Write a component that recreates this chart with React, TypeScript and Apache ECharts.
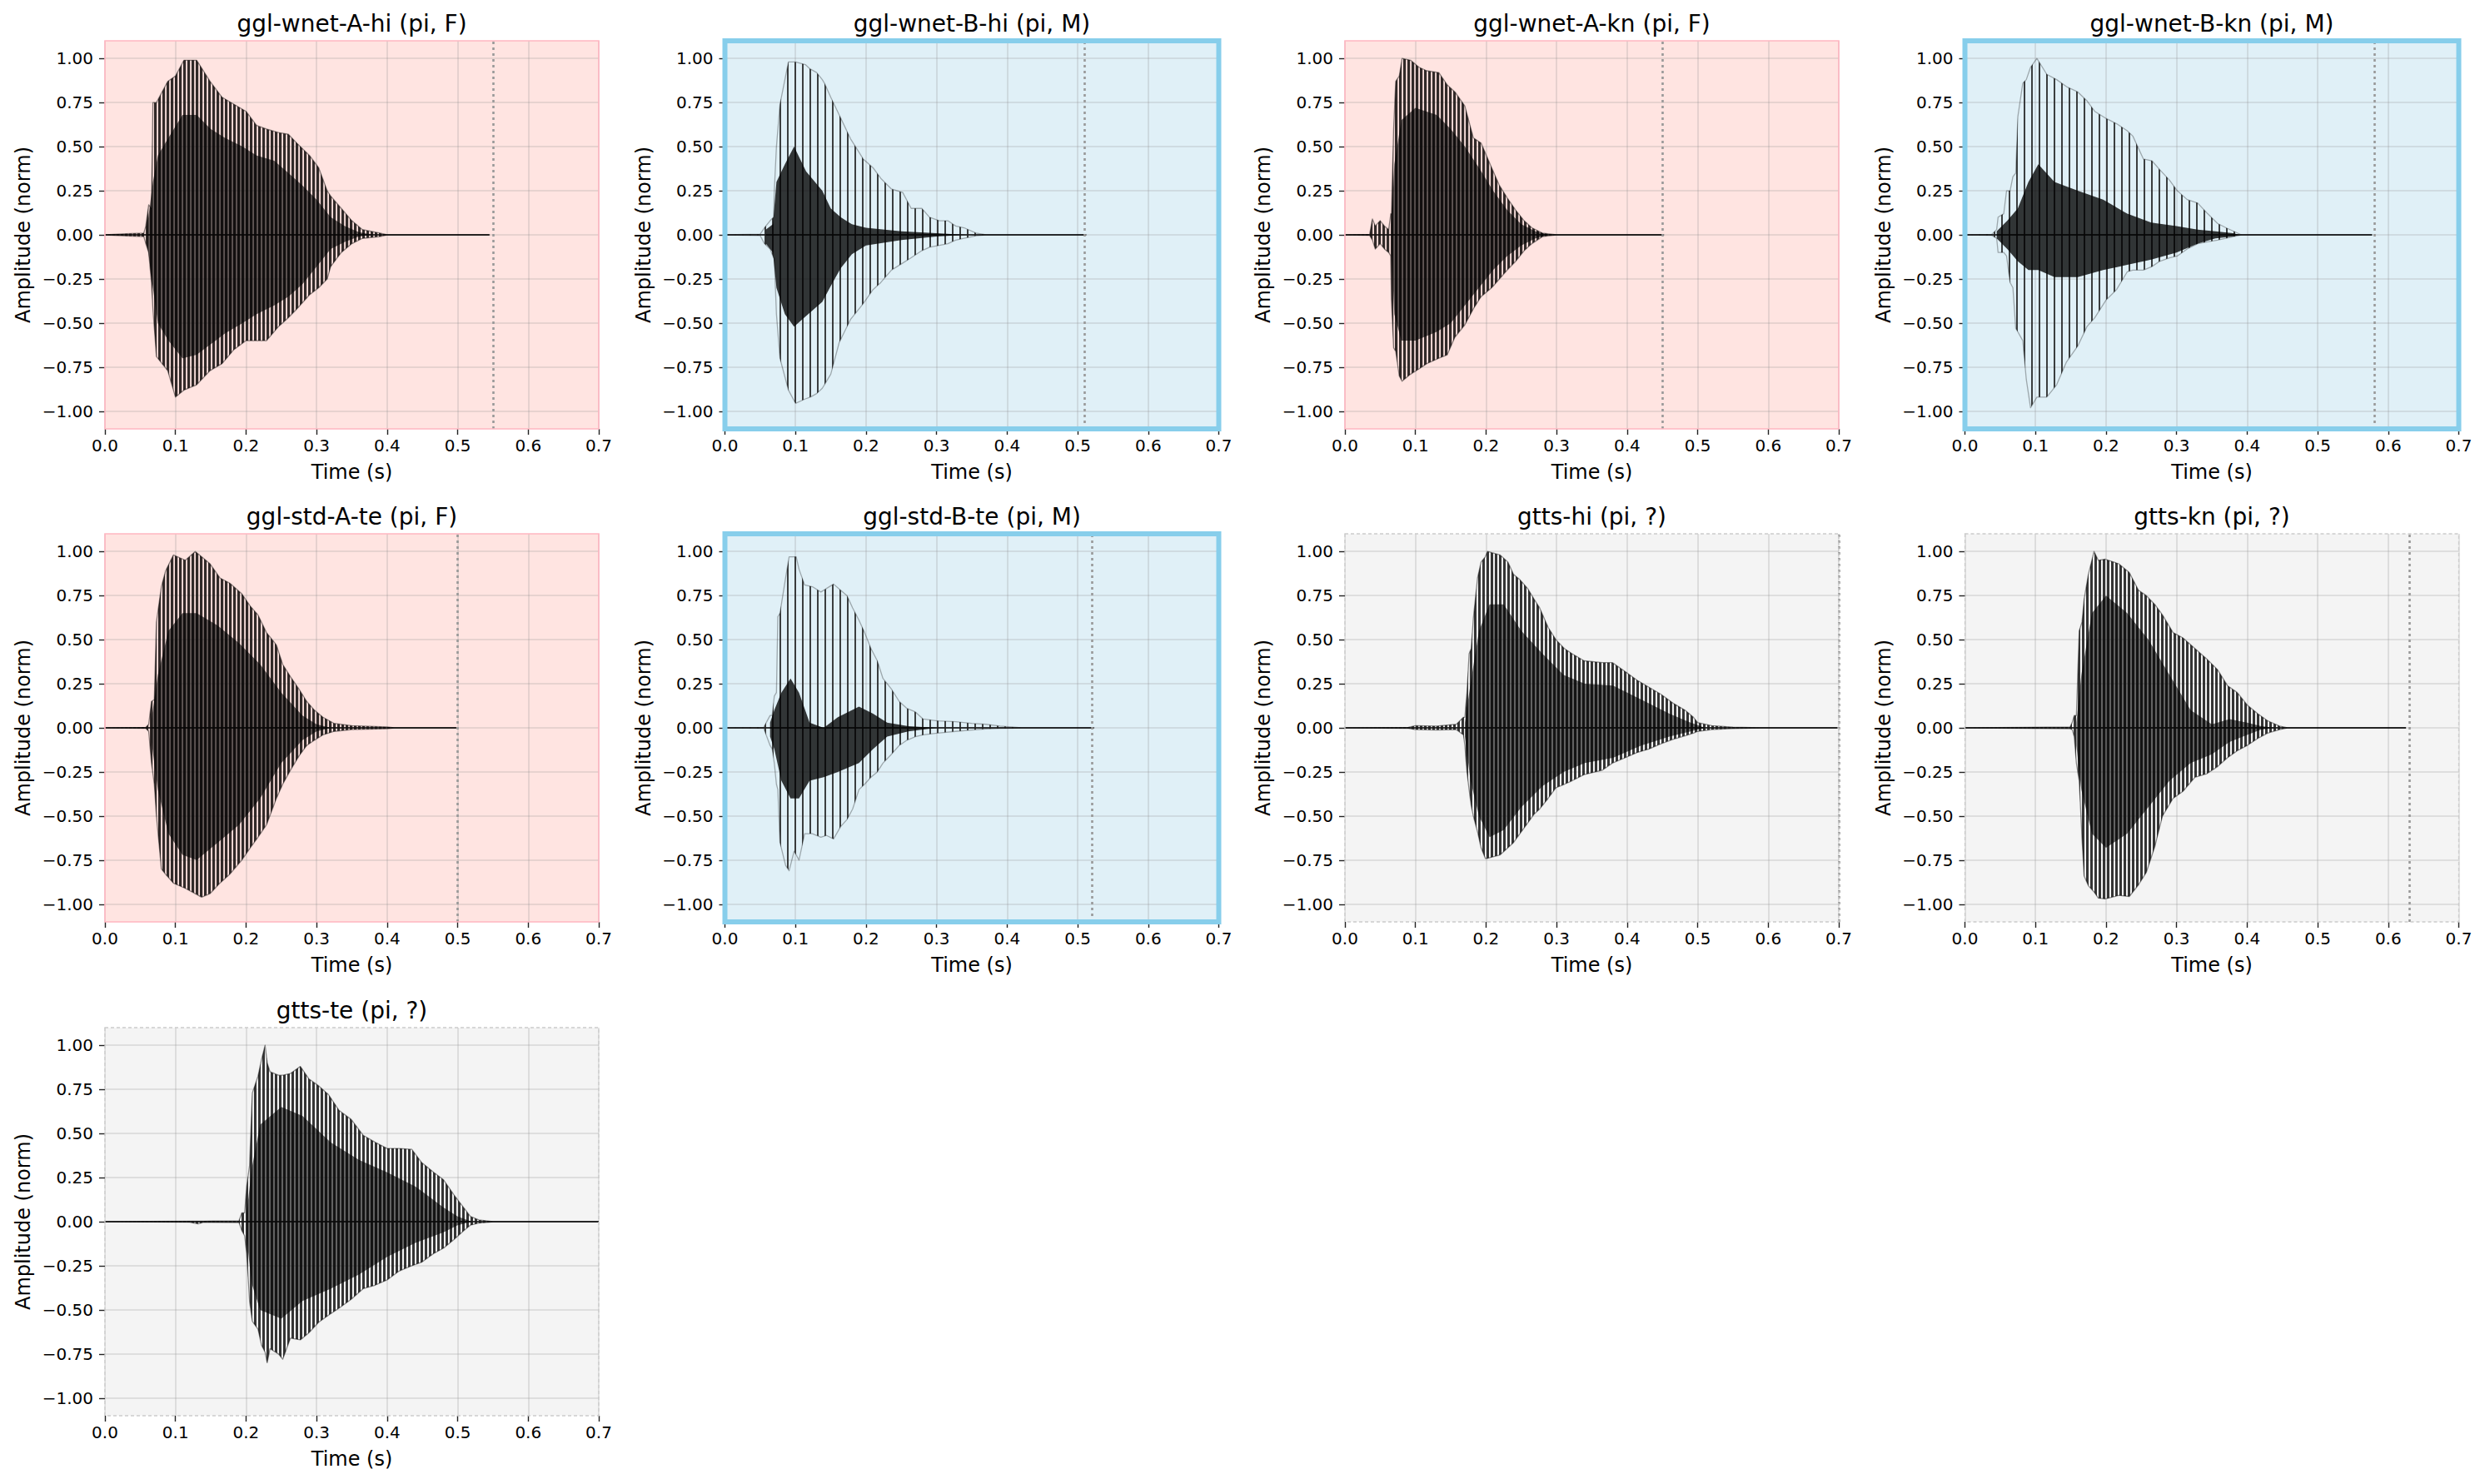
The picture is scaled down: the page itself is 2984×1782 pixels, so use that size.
import { useEffect, useRef } from 'react';
import * as echarts from 'echarts';

// [time (s), upper, lower]
type Envelope = [number, number, number][];

const panelTitles = [
  'ggl-wnet-A-hi (pi, F)',
  'ggl-wnet-B-hi (pi, M)',
  'ggl-wnet-A-kn (pi, F)',
  'ggl-wnet-B-kn (pi, M)',
  'ggl-std-A-te (pi, F)',
  'ggl-std-B-te (pi, M)',
  'gtts-hi (pi, ?)',
  'gtts-kn (pi, ?)',
  'gtts-te (pi, ?)',
];
const panelSpeakers = ['F', 'M', 'F', 'M', 'F', 'M', '?', '?', '?'];
const clipEnds: (number | null)[] = [0.545, 0.512, 0.452, 0.577, 0.498, 0.523, 0.698, 0.625, null];
const ampTicks = [-1, -0.75, -0.5, -0.25, 0, 0.25, 0.5, 0.75, 1];

// peak envelopes
const wnetAHiPeaks: Envelope = [
  [0, 0, 0], [0.03, 0.006, -0.006], [0.055, 0.01, -0.01], [0.058, 0.05, -0.05], [0.062, 0.17, -0.1],
  [0.066, 0.15, -0.27], [0.068, 0.75, -0.42], [0.073, 0.75, -0.69], [0.089, 0.87, -0.77], [0.1, 0.9, -0.92],
  [0.112, 0.99, -0.88], [0.13, 0.99, -0.85], [0.149, 0.87, -0.77], [0.166, 0.78, -0.73], [0.183, 0.74, -0.65],
  [0.2, 0.7, -0.6], [0.215, 0.62, -0.6], [0.229, 0.6, -0.6], [0.246, 0.58, -0.52], [0.26, 0.57, -0.47],
  [0.272, 0.52, -0.42], [0.29, 0.45, -0.34], [0.303, 0.38, -0.3], [0.315, 0.25, -0.25], [0.32, 0.22, -0.18],
  [0.335, 0.15, -0.1], [0.35, 0.08, -0.05], [0.365, 0.03, -0.02], [0.39, 0.01, -0.01], [0.4, 0, 0], [0.545, 0, 0],
];
const wnetAHiCore: Envelope = [
  [0.06, 0.05, -0.05], [0.068, 0.3, -0.3], [0.075, 0.45, -0.5], [0.09, 0.55, -0.6], [0.11, 0.68, -0.7],
  [0.13, 0.68, -0.68], [0.15, 0.6, -0.62], [0.17, 0.55, -0.56], [0.195, 0.5, -0.5], [0.215, 0.45, -0.45],
  [0.24, 0.42, -0.4], [0.26, 0.35, -0.35], [0.28, 0.28, -0.28], [0.3, 0.2, -0.18], [0.32, 0.1, -0.08],
  [0.34, 0.05, -0.04], [0.36, 0.015, -0.01], [0.38, 0, 0],
];

const wnetBHiPeaks: Envelope = [
  [0, 0, 0], [0.05, 0.004, -0.004], [0.056, 0.04, -0.05], [0.064, 0.08, -0.08], [0.069, 0.1, -0.13],
  [0.07, 0.25, -0.13], [0.073, 0.5, -0.45], [0.078, 0.74, -0.7], [0.09, 0.98, -0.88], [0.1, 0.98, -0.955],
  [0.114, 0.965, -0.93], [0.121, 0.94, -0.92], [0.13, 0.92, -0.9], [0.138, 0.88, -0.87], [0.141, 0.86, -0.85],
  [0.15, 0.78, -0.79], [0.162, 0.68, -0.61], [0.178, 0.545, -0.48], [0.196, 0.43, -0.39], [0.21, 0.38, -0.31],
  [0.221, 0.32, -0.27], [0.236, 0.26, -0.2], [0.252, 0.24, -0.16], [0.264, 0.15, -0.13], [0.279, 0.15, -0.09],
  [0.29, 0.1, -0.07], [0.304, 0.08, -0.06], [0.316, 0.08, -0.05], [0.327, 0.05, -0.03], [0.339, 0.04, -0.02],
  [0.356, 0.01, -0.005], [0.37, 0, 0], [0.512, 0, 0],
];
const wnetBHiCore: Envelope = [
  [0.058, 0.03, -0.05], [0.068, 0.06, -0.1], [0.073, 0.3, -0.3], [0.085, 0.4, -0.45], [0.098, 0.5, -0.52],
  [0.115, 0.36, -0.46], [0.138, 0.25, -0.38], [0.15, 0.15, -0.29], [0.164, 0.1, -0.19], [0.18, 0.06, -0.11],
  [0.2, 0.04, -0.06], [0.25, 0.02, -0.03], [0.3, 0.01, -0.01], [0.34, 0, 0],
];

const wnetAKnPeaks: Envelope = [
  [0, 0, 0], [0.035, 0.003, -0.003], [0.039, 0.09, -0.03], [0.043, 0.05, -0.08], [0.05, 0.08, -0.05],
  [0.056, 0.05, -0.08], [0.062, 0.03, -0.1], [0.065, 0.12, -0.12], [0.066, 0.12, -0.37], [0.069, 0.6, -0.64],
  [0.072, 0.87, -0.66], [0.077, 0.9, -0.8], [0.081, 1.0, -0.83], [0.093, 0.99, -0.79], [0.105, 0.95, -0.76],
  [0.116, 0.93, -0.73], [0.133, 0.92, -0.7], [0.145, 0.85, -0.68], [0.156, 0.81, -0.58], [0.17, 0.73, -0.51],
  [0.182, 0.55, -0.42], [0.193, 0.52, -0.35], [0.208, 0.38, -0.3], [0.219, 0.28, -0.25], [0.23, 0.21, -0.2],
  [0.242, 0.14, -0.15], [0.254, 0.08, -0.09], [0.265, 0.04, -0.05], [0.28, 0.01, -0.01], [0.3, 0, 0], [0.452, 0, 0],
];
const wnetAKnCore: Envelope = [
  [0.066, 0.05, -0.1], [0.07, 0.4, -0.45], [0.08, 0.65, -0.6], [0.1, 0.72, -0.6], [0.13, 0.68, -0.55],
  [0.15, 0.6, -0.5], [0.17, 0.5, -0.4], [0.19, 0.38, -0.3], [0.21, 0.25, -0.2], [0.23, 0.14, -0.12],
  [0.25, 0.06, -0.06], [0.27, 0.02, -0.02], [0.29, 0, 0],
];

const wnetBKnPeaks: Envelope = [
  [0, 0, 0], [0.038, 0.003, -0.003], [0.045, 0.03, -0.02], [0.047, 0.1, -0.1], [0.055, 0.12, -0.1],
  [0.059, 0.25, -0.12], [0.064, 0.25, -0.27], [0.068, 0.33, -0.3], [0.072, 0.35, -0.53], [0.075, 0.67, -0.55],
  [0.082, 0.86, -0.6], [0.087, 0.88, -0.82], [0.093, 0.95, -0.98], [0.102, 1.0, -0.92], [0.116, 0.91, -0.92],
  [0.13, 0.88, -0.85], [0.144, 0.84, -0.72], [0.16, 0.81, -0.63], [0.173, 0.76, -0.52], [0.184, 0.7, -0.47],
  [0.2, 0.66, -0.37], [0.215, 0.63, -0.31], [0.23, 0.59, -0.21], [0.238, 0.56, -0.2], [0.253, 0.43, -0.2],
  [0.265, 0.42, -0.18], [0.276, 0.37, -0.15], [0.29, 0.31, -0.13], [0.301, 0.25, -0.12], [0.315, 0.2, -0.08],
  [0.33, 0.18, -0.05], [0.344, 0.12, -0.04], [0.358, 0.065, -0.03], [0.37, 0.04, -0.02], [0.381, 0.02, -0.01],
  [0.392, 0, 0], [0.577, 0, 0],
];
const wnetBKnCore: Envelope = [
  [0.045, 0.02, -0.02], [0.06, 0.08, -0.08], [0.075, 0.15, -0.15], [0.09, 0.3, -0.2], [0.104, 0.4, -0.2],
  [0.127, 0.3, -0.24], [0.16, 0.25, -0.24], [0.196, 0.2, -0.2], [0.23, 0.12, -0.17], [0.264, 0.07, -0.14],
  [0.3, 0.05, -0.1], [0.33, 0.03, -0.05], [0.355, 0.02, -0.02], [0.38, 0.01, -0.01], [0.39, 0, 0],
];

const stdATePeaks: Envelope = [
  [0, 0, 0], [0.058, 0.003, -0.003], [0.062, 0.02, -0.02], [0.066, 0.15, -0.2], [0.07, 0.16, -0.32],
  [0.073, 0.6, -0.5], [0.08, 0.8, -0.8], [0.086, 0.89, -0.83], [0.097, 0.98, -0.88], [0.114, 0.95, -0.91],
  [0.128, 1.0, -0.94], [0.137, 0.97, -0.96], [0.149, 0.93, -0.94], [0.163, 0.85, -0.88], [0.177, 0.82, -0.83],
  [0.194, 0.76, -0.75], [0.206, 0.69, -0.68], [0.217, 0.64, -0.62], [0.229, 0.54, -0.55], [0.243, 0.47, -0.4],
  [0.252, 0.36, -0.32], [0.263, 0.29, -0.24], [0.275, 0.22, -0.16], [0.286, 0.15, -0.1], [0.297, 0.1, -0.07],
  [0.309, 0.06, -0.04], [0.325, 0.025, -0.02], [0.35, 0.012, -0.01], [0.4, 0.005, -0.005], [0.41, 0, 0],
  [0.498, 0, 0],
];
const stdATeCore: Envelope = [
  [0.066, 0.05, -0.08], [0.075, 0.3, -0.35], [0.09, 0.55, -0.6], [0.11, 0.65, -0.72], [0.13, 0.65, -0.75],
  [0.16, 0.58, -0.65], [0.19, 0.48, -0.55], [0.22, 0.36, -0.4], [0.25, 0.2, -0.2], [0.28, 0.07, -0.07],
  [0.3, 0.02, -0.02], [0.32, 0, 0],
];

const stdBTePeaks: Envelope = [
  [0, 0, 0], [0.055, 0.003, -0.003], [0.064, 0.07, -0.1], [0.067, 0.07, -0.12], [0.07, 0.18, -0.2],
  [0.073, 0.2, -0.32], [0.075, 0.63, -0.35], [0.078, 0.65, -0.65], [0.086, 0.85, -0.78], [0.091, 0.97, -0.81],
  [0.098, 0.97, -0.7], [0.101, 0.97, -0.72], [0.105, 0.9, -0.75], [0.113, 0.81, -0.6], [0.124, 0.8, -0.6],
  [0.136, 0.77, -0.62], [0.144, 0.79, -0.61], [0.154, 0.815, -0.63], [0.164, 0.78, -0.56], [0.173, 0.75, -0.52],
  [0.181, 0.68, -0.46], [0.19, 0.61, -0.35], [0.198, 0.54, -0.32], [0.207, 0.45, -0.28], [0.216, 0.38, -0.25],
  [0.224, 0.28, -0.2], [0.236, 0.22, -0.15], [0.247, 0.15, -0.1], [0.258, 0.11, -0.07], [0.27, 0.09, -0.05],
  [0.281, 0.05, -0.04], [0.301, 0.04, -0.03], [0.327, 0.035, -0.02], [0.35, 0.025, -0.012], [0.37, 0.02, -0.006],
  [0.39, 0.01, -0.003], [0.413, 0.003, -0.002], [0.42, 0, 0], [0.523, 0, 0],
];
const stdBTeCore: Envelope = [
  [0.064, 0.03, -0.05], [0.07, 0.1, -0.12], [0.08, 0.2, -0.3], [0.093, 0.28, -0.4], [0.105, 0.2, -0.4],
  [0.12, 0.03, -0.3], [0.14, 0.0, -0.28], [0.16, 0.06, -0.25], [0.19, 0.12, -0.2], [0.21, 0.08, -0.12],
  [0.23, 0.03, -0.05], [0.26, 0.01, -0.02], [0.3, 0, 0],
];

const gttsHiPeaks: Envelope = [
  [0, 0, 0], [0.09, 0.003, -0.003], [0.1, 0.012, -0.01], [0.13, 0.01, -0.012], [0.158, 0.02, -0.01],
  [0.168, 0.06, -0.04], [0.17, 0.06, -0.1], [0.173, 0.2, -0.25], [0.176, 0.42, -0.35], [0.179, 0.45, -0.44],
  [0.182, 0.62, -0.5], [0.188, 0.85, -0.59], [0.193, 0.94, -0.68], [0.199, 0.97, -0.74], [0.202, 1.0, -0.74],
  [0.22, 0.98, -0.72], [0.231, 0.94, -0.68], [0.239, 0.87, -0.65], [0.248, 0.84, -0.6], [0.259, 0.79, -0.54],
  [0.268, 0.73, -0.49], [0.276, 0.68, -0.46], [0.288, 0.57, -0.4], [0.299, 0.5, -0.34], [0.311, 0.45, -0.32],
  [0.322, 0.42, -0.3], [0.339, 0.38, -0.265], [0.365, 0.37, -0.24], [0.379, 0.37, -0.2], [0.397, 0.32, -0.17],
  [0.414, 0.27, -0.14], [0.431, 0.23, -0.12], [0.448, 0.19, -0.09], [0.465, 0.14, -0.065], [0.482, 0.1, -0.045],
  [0.494, 0.06, -0.03], [0.5, 0.03, -0.02], [0.52, 0.012, -0.01], [0.55, 0.004, -0.004], [0.59, 0, 0],
  [0.698, 0, 0],
];
const gttsHiCore: Envelope = [
  [0.17, 0.03, -0.05], [0.178, 0.25, -0.3], [0.19, 0.55, -0.5], [0.205, 0.7, -0.62], [0.225, 0.7, -0.58],
  [0.25, 0.55, -0.45], [0.28, 0.42, -0.33], [0.31, 0.3, -0.25], [0.34, 0.25, -0.2], [0.38, 0.24, -0.17],
  [0.42, 0.16, -0.1], [0.46, 0.08, -0.05], [0.49, 0.03, -0.02], [0.51, 0, 0],
];

const gttsKnPeaks: Envelope = [
  [0, 0, 0], [0.085, 0.003, -0.003], [0.149, 0.005, -0.005], [0.152, 0.03, -0.01], [0.155, 0.07, -0.05],
  [0.158, 0.07, -0.2], [0.162, 0.55, -0.3], [0.166, 0.6, -0.63], [0.169, 0.73, -0.84], [0.175, 0.87, -0.895],
  [0.183, 1.0, -0.93], [0.189, 0.95, -0.965], [0.199, 0.956, -0.97], [0.218, 0.93, -0.95], [0.233, 0.88, -0.956],
  [0.246, 0.78, -0.89], [0.257, 0.75, -0.82], [0.269, 0.7, -0.675], [0.28, 0.64, -0.5], [0.295, 0.54, -0.4],
  [0.309, 0.51, -0.36], [0.326, 0.45, -0.28], [0.343, 0.39, -0.26], [0.358, 0.33, -0.22], [0.372, 0.24, -0.17],
  [0.386, 0.2, -0.13], [0.4, 0.13, -0.1], [0.415, 0.08, -0.06], [0.429, 0.04, -0.03], [0.446, 0.01, -0.01],
  [0.457, 0, 0], [0.625, 0, 0],
];
const gttsKnCore: Envelope = [
  [0.158, 0.03, -0.1], [0.165, 0.3, -0.35], [0.18, 0.65, -0.6], [0.2, 0.75, -0.68], [0.23, 0.65, -0.6],
  [0.26, 0.5, -0.45], [0.29, 0.3, -0.3], [0.32, 0.1, -0.2], [0.35, 0.02, -0.15], [0.375, 0.05, -0.08],
  [0.4, 0.03, -0.04], [0.42, 0.01, -0.01], [0.44, 0, 0],
];

const gttsTePeaks: Envelope = [
  [0, 0, 0], [0.12, 0.003, -0.003], [0.132, 0.003, -0.012], [0.14, 0.003, -0.003], [0.19, 0.005, -0.005],
  [0.194, 0.05, -0.05], [0.198, 0.05, -0.08], [0.201, 0.2, -0.18], [0.205, 0.32, -0.45], [0.209, 0.73, -0.565],
  [0.217, 0.825, -0.61], [0.222, 0.92, -0.7], [0.227, 1.0, -0.74], [0.23, 0.9, -0.8], [0.234, 0.85, -0.72],
  [0.246, 0.83, -0.75], [0.252, 0.83, -0.78], [0.263, 0.84, -0.66], [0.277, 0.88, -0.67], [0.289, 0.81, -0.63],
  [0.303, 0.77, -0.57], [0.317, 0.72, -0.53], [0.332, 0.63, -0.49], [0.349, 0.58, -0.44], [0.366, 0.49, -0.38],
  [0.383, 0.45, -0.36], [0.4, 0.415, -0.33], [0.417, 0.415, -0.28], [0.435, 0.41, -0.25], [0.449, 0.335, -0.23],
  [0.466, 0.28, -0.18], [0.48, 0.237, -0.15], [0.495, 0.15, -0.1], [0.509, 0.077, -0.05], [0.518, 0.03, -0.02],
  [0.53, 0.01, -0.008], [0.545, 0.003, -0.003], [0.55, 0, 0], [0.7, 0, 0],
];
const gttsTeCore: Envelope = [
  [0.201, 0.05, -0.1], [0.208, 0.3, -0.35], [0.22, 0.55, -0.5], [0.25, 0.65, -0.55], [0.28, 0.6, -0.45],
  [0.32, 0.45, -0.38], [0.36, 0.35, -0.3], [0.4, 0.28, -0.2], [0.44, 0.2, -0.12], [0.48, 0.08, -0.06],
  [0.5, 0.03, -0.02], [0.52, 0, 0],
];

const peakEnvelopes = [
  wnetAHiPeaks, wnetBHiPeaks, wnetAKnPeaks, wnetBKnPeaks, stdATePeaks, stdBTePeaks,
  gttsHiPeaks, gttsKnPeaks, gttsTePeaks,
];
const coreEnvelopes = [
  wnetAHiCore, wnetBHiCore, wnetAKnCore, wnetBKnCore, stdATeCore, stdBTeCore,
  gttsHiCore, gttsKnCore, gttsTeCore,
];

const FONT = 'DejaVu Sans';
const colLeft = [126, 870.5, 1615, 2359.5];
const rowTop = [49, 641, 1234];
const plotW = 593;
const plotH = 466;

// vertical hatch standing in for the single oscillations of the waveform
function stripes(pitch: number, width: number, color: string) {
  const svg = `<svg xmlns="http://www.w3.org/2000/svg" width="${pitch}" height="4">`
    + `<rect x="0" y="0" width="${width}" height="4" fill="${color}"/></svg>`;
  return {
    type: 'pattern',
    image: `data:image/svg+xml;charset=utf-8,${encodeURIComponent(svg)}`,
    repeat: 'repeat',
    imageWidth: pitch,
    imageHeight: 4,
  };
}

const speakerStyle: Record<string, {
  bg: string; border: string; borderWidth: number; dash?: number[]; peak: any; core: string; edge: string;
}> = {
  F: {
    bg: '#ffe4e1', border: '#ffb6c1', borderWidth: 1.6,
    peak: stripes(5, 3.2, 'rgba(20,15,15,0.88)'), core: 'rgba(0,0,0,0.62)', edge: 'rgba(0,0,0,0.45)',
  },
  M: {
    bg: '#e0f0f7', border: '#87ceeb', borderWidth: 6,
    peak: stripes(9, 2, 'rgba(30,30,30,0.85)'), core: 'rgba(0,0,0,0.78)', edge: 'rgba(0,0,0,0.3)',
  },
  '?': {
    bg: '#f4f4f4', border: '#cccccc', borderWidth: 1.3, dash: [4, 3],
    peak: stripes(5, 3, 'rgba(25,25,25,0.88)'), core: 'rgba(0,0,0,0.6)', edge: 'rgba(0,0,0,0.45)',
  },
};

function ampLabel(v: number) {
  const s = Math.abs(v).toFixed(2);
  return v < -1e-9 ? `\u2212${s}` : s;
}

function envelopeSeries(env: Envelope, idx: number, fill: any, stroke: string, z: number, end: number | null) {
  return {
    type: 'custom',
    xAxisIndex: idx,
    yAxisIndex: idx,
    data: env,
    encode: { x: 0, y: [1, 2] },
    clip: true,
    silent: true,
    z,
    renderItem: (params: any, api: any) => {
      if (params.dataIndex !== 0) return null;
      const upper = env.map(([t, hi]) => api.coord([t, hi]));
      const lower = env.slice().reverse().map(([t, , lo]) => api.coord([t, lo]));
      return {
        type: 'polygon',
        shape: { points: [...upper, ...lower] },
        style: { fill, stroke, lineWidth: 1.3, lineJoin: 'round' },
      };
    },
    markLine: end === null ? undefined : {
      silent: true,
      symbol: ['none', 'none'],
      label: { show: false },
      lineStyle: { color: '#999999', type: [3, 4], width: 2.6 },
      data: [{ xAxis: end }],
    },
  };
}

function baselineSeries(idx: number, end: number) {
  return {
    type: 'line',
    xAxisIndex: idx,
    yAxisIndex: idx,
    data: [[0, 0], [end, 0]],
    showSymbol: false,
    silent: true,
    z: 2,
    lineStyle: { color: 'rgba(0,0,0,0.75)', width: 1.8 },
  };
}

export default function App() {
  const ref = useRef<HTMLDivElement | null>(null);

  useEffect(() => {
    if (!ref.current) return;
    const chart = echarts.init(ref.current, undefined, { renderer: 'svg' });

    const grids: any[] = [];
    const xAxes: any[] = [];
    const yAxes: any[] = [];
    const series: any[] = [];
    const graphics: any[] = [];

    panelTitles.forEach((title, i) => {
      const left = colLeft[i % 4];
      const top = rowTop[Math.floor(i / 4)];
      const st = speakerStyle[panelSpeakers[i]];
      const gridLine = { color: 'rgba(150,150,150,0.3)', width: 1.6 };
      const env = peakEnvelopes[i];

      grids.push({
        left, top, width: plotW, height: plotH,
        show: true, backgroundColor: st.bg, borderWidth: 0,
        outerBoundsMode: 'none', containLabel: false,
      });
      xAxes.push({
        gridIndex: i,
        type: 'value',
        position: 'bottom',
        min: 0,
        max: 0.7,
        interval: 0.1,
        name: 'Time (s)',
        nameLocation: 'middle',
        nameGap: 40,
        nameTextStyle: { fontSize: 24, color: '#000', fontFamily: FONT },
        axisLine: { show: false, onZero: false },
        axisTick: { show: true, length: 7, lineStyle: { color: '#222', width: 1.4 } },
        axisLabel: {
          fontSize: 20, color: '#000', fontFamily: FONT, margin: 10,
          showMinLabel: true, showMaxLabel: true,
          formatter: (v: number) => v.toFixed(1),
        },
        splitLine: { show: true, lineStyle: gridLine },
      });
      yAxes.push({
        gridIndex: i,
        type: 'value',
        position: 'left',
        min: -1.1,
        max: 1.1,
        name: 'Amplitude (norm)',
        nameLocation: 'middle',
        nameGap: 86,
        nameTextStyle: { fontSize: 24, color: '#000', fontFamily: FONT },
        axisLine: { show: false, onZero: false },
        axisTick: { show: true, length: 7, customValues: ampTicks, lineStyle: { color: '#222', width: 1.4 } },
        axisLabel: {
          fontSize: 20, color: '#000', fontFamily: FONT, margin: 14,
          customValues: ampTicks,
          formatter: ampLabel,
        },
        splitLine: { show: true, lineStyle: gridLine },
      });

      series.push(baselineSeries(i, env[env.length - 1][0]));
      series.push(envelopeSeries(env, i, st.peak, st.edge, 3, clipEnds[i]));
      series.push(envelopeSeries(coreEnvelopes[i], i, st.core, 'none', 4, null));

      graphics.push({
        type: 'rect',
        silent: true,
        z: 100,
        shape: { x: left, y: top, width: plotW, height: plotH },
        style: { fill: 'none', stroke: st.border, lineWidth: st.borderWidth, lineDash: st.dash },
      });
      graphics.push({
        type: 'text',
        silent: true,
        z: 100,
        x: left + plotW / 2,
        y: top - 21,
        style: {
          text: title,
          fill: '#000',
          font: `28px "${FONT}"`,
          align: 'center',
          verticalAlign: 'middle',
          textAlign: 'center',
          textVerticalAlign: 'middle',
        },
      });
    });

    chart.setOption({
      animation: false,
      backgroundColor: '#ffffff',
      textStyle: { fontFamily: FONT },
      grid: grids,
      xAxis: xAxes,
      yAxis: yAxes,
      series,
      graphic: { elements: graphics },
    });

    return () => chart.dispose();
  }, []);

  return (
    <div
      ref={ref}
      style={{ position: 'absolute', left: 0, top: 0, width: 2984, height: 1782, background: '#fff' }}
    />
  );
}
